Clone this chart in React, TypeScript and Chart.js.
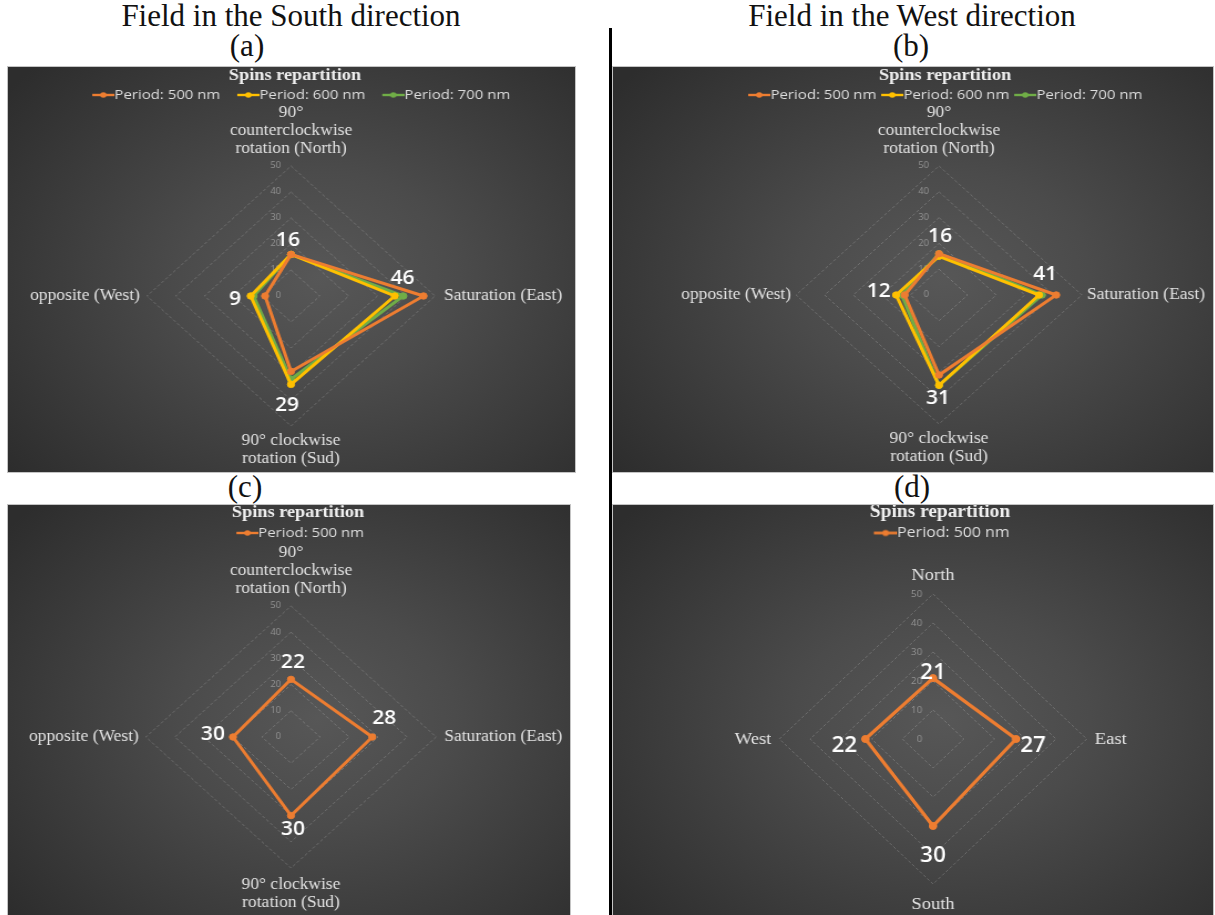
import React, { useEffect, useRef } from 'react';
import { Chart, registerables } from 'chart.js';

Chart.register(...registerables);

// ---------------- data ----------------
const rotationAxes: (string | string[])[] = [
  ['90°', 'counterclockwise', 'rotation (North)'],
  'Saturation (East)',
  ['90° clockwise', 'rotation (Sud)'],
  'opposite (West)',
];
const compassAxes = ['North', 'East', 'South', 'West'];
const periodNames = ['Period: 500 nm', 'Period: 600 nm', 'Period: 700 nm'];

// (a) field in the South direction
const southField500 = [16, 46, 29, 9];
const southField600 = [16, 36, 34, 14];
const southField700 = [16, 39, 32, 13];
// (b) field in the West direction
const westField500 = [16, 41, 31, 12];
const westField600 = [15, 35, 35, 15];
const westField700 = [16, 36, 35, 13];
// (c)
const panelC500 = [22, 28, 30, 20];
const panelCLabels = ['22', '28', '30', '30'];
// (d)
const panelD500 = [21, 27, 30, 22];

const rMin = 0;
const rMax = 50;
const rStep = 10;

const seriesColors = ['#ED7D31', '#FFC000', '#70AD47'];

// ---------------- layout / style ----------------
type Panel = {
  left: number; top: number; w: number; h: number; S: number; k: number;
  cx: number; cy: number; r: number;
  titleCx: number; titleCy: number; legendCy: number; legendGap: number;
  axes: (string | string[])[];
  series: number[][];
  valueLabels: string[];
  offsets: number[][];
  gaps: { n: number; e: number; s: number; w: number };
};

const panels: Panel[] = [
  {
    left: 8, top: 67, w: 567, h: 405, S: 1.108, k: 1,
    cx: 291, cy: 296, r: 130,
    titleCx: 295, titleCy: 9, legendCy: 28, legendGap: 17,
    axes: rotationAxes,
    series: [southField500, southField600, southField700],
    valueLabels: southField500.map(String),
    offsets: [[-3, -14], [-21, -17], [-4, 34], [-30, 4]],
    gaps: { n: 17, e: 9, s: 15, w: 7 },
  },
  {
    left: 613, top: 67, w: 600, h: 405, S: 1.108, k: 1,
    cx: 939, cy: 295, r: 129,
    titleCx: 945, titleCy: 9, legendCy: 28, legendGap: 5,
    axes: rotationAxes,
    series: [westField500, westField600, westField700],
    valueLabels: westField500.map(String),
    offsets: [[1, -17], [-11, -20], [-1, 24], [-26, -3]],
    gaps: { n: 17, e: 5, s: 15, w: 5 },
  },
  {
    left: 8, top: 505, w: 562, h: 410, S: 1.108, k: 1,
    cx: 291, cy: 737, r: 131,
    titleCx: 298, titleCy: 8, legendCy: 28, legendGap: 10,
    axes: rotationAxes,
    series: [panelC500],
    valueLabels: panelCLabels,
    offsets: [[2, -17], [12, -18], [2, 14], [-20, -2]],
    gaps: { n: 17, e: 8, s: 17, w: 7 },
  },
  {
    left: 613, top: 505, w: 600, h: 410, S: 1.06, k: 1.11,
    cx: 933, cy: 739, r: 145,
    titleCx: 940, titleCy: 7, legendCy: 28, legendGap: 10,
    axes: compassAxes,
    series: [panelD500],
    valueLabels: panelD500.map(String),
    offsets: [[0, -5], [17, 7], [0, 30], [-21, 7]],
    gaps: { n: 17, e: 8, s: 18, w: 8 },
  },
];

function makeMarker(color: string, W: number, L: number, lw: number, dotR: number) {
  const c = document.createElement('canvas');
  const H = Math.ceil(dotR * 2 + 2);
  c.width = Math.round(W);
  c.height = H;
  const g = c.getContext('2d')!;
  g.strokeStyle = color;
  g.lineWidth = lw;
  g.beginPath();
  g.moveTo(c.width - L, H / 2);
  g.lineTo(c.width, H / 2);
  g.stroke();
  g.fillStyle = color;
  g.beginPath();
  g.arc(c.width - L / 2, H / 2, dotR, 0, Math.PI * 2);
  g.fill();
  return c;
}

function RadarPanel({ p }: { p: Panel }) {
  const ref = useRef<HTMLCanvasElement | null>(null);
  const cw = Math.round(p.w / p.S);

  useEffect(() => {
    const k = p.k;
    const titleSize = 16.5 * k;
    const legendSize = 13.5 * k;
    const tickSize = 8.5 * k;
    const axisSize = 15.8 * k;
    const valueSize = 19 * k;
    const lineH = 18 * k;

    const titleLH = Math.min(1, (2 * p.titleCy) / titleSize);
    const titlePadTop = Math.max(0, p.titleCy - (titleSize * titleLH) / 2);
    const titleBoxH = titleSize * titleLH + titlePadTop;
    const hf = legendSize / 2;
    const legendPad = Math.max(0, p.legendCy - titleBoxH - hf);
    const L = 20 * k;
    const boxW = Math.max(4, p.legendGap / p.S - legendPad - hf + L);

    const titleCxC = (p.titleCx - p.left) / p.S;
    const diff = 2 * titleCxC - cw;
    const padL = diff > 0 ? diff : 0;
    const padR = diff < 0 ? -diff : 0;

    const cxC = (p.cx - p.left) / p.S;
    const cyC = p.cy - p.top;

    const decor = {
      id: 'decor',
      beforeDatasetsDraw(chart: any) {
        const s = chart.scales.r;
        const ctx = chart.ctx;
        ctx.save();
        // tick labels, left of the vertical axis
        ctx.font = `${tickSize}px "Open Sans"`;
        ctx.fillStyle = '#939393';
        ctx.textAlign = 'right';
        ctx.textBaseline = 'middle';
        s.ticks.forEach((t: any) => {
          const d = s.getDistanceFromCenterForValue(t.value);
          ctx.fillText(t.label, s.xCenter - 9 * k, s.yCenter - d);
        });
        // category (point) labels
        ctx.font = `${axisSize}px "Liberation Serif"`;
        ctx.fillStyle = '#e2e2e2';
        chart.data.labels.forEach((lab: any, i: number) => {
          const lines: string[] = Array.isArray(lab) ? lab : [lab];
          const pos = s.getPointPosition(i, s.drawingArea);
          if (i === 0) {
            ctx.textAlign = 'center';
            ctx.textBaseline = 'middle';
            lines.forEach((ln, j) => {
              ctx.fillText(ln, pos.x, pos.y - p.gaps.n * k - (lines.length - 1 - j) * lineH);
            });
          } else if (i === 2) {
            ctx.textAlign = 'center';
            ctx.textBaseline = 'middle';
            lines.forEach((ln, j) => {
              ctx.fillText(ln, pos.x, pos.y + p.gaps.s * k + j * lineH);
            });
          } else if (i === 1) {
            ctx.textAlign = 'left';
            ctx.textBaseline = 'middle';
            lines.forEach((ln, j) => ctx.fillText(ln, pos.x + p.gaps.e / p.S, pos.y + j * lineH));
          } else {
            ctx.textAlign = 'right';
            ctx.textBaseline = 'middle';
            lines.forEach((ln, j) => ctx.fillText(ln, pos.x - p.gaps.w / p.S, pos.y + j * lineH));
          }
        });
        ctx.restore();
      },
      afterDatasetsDraw(chart: any) {
        const ctx = chart.ctx;
        const meta = chart.getDatasetMeta(0);
        ctx.save();
        ctx.font = `600 ${valueSize}px "Open Sans"`;
        ctx.fillStyle = '#ffffff';
        ctx.textAlign = 'center';
        ctx.textBaseline = 'middle';
        meta.data.forEach((pt: any, i: number) => {
          const o = p.offsets[i];
          ctx.fillText(p.valueLabels[i], pt.x + o[0] / p.S, pt.y + o[1]);
        });
        ctx.restore();
      },
    };

    const chart = new Chart(ref.current!, {
      type: 'radar',
      data: {
        labels: p.axes as any,
        datasets: p.series.map((vals, i) => ({
          label: periodNames[i],
          data: vals,
          borderColor: seriesColors[i],
          backgroundColor: seriesColors[i],
          pointBackgroundColor: seriesColors[i],
          pointBorderColor: seriesColors[i],
          pointRadius: 3.2 * k,
          pointBorderWidth: 1,
          borderWidth: 3 * k,
          fill: false,
        })),
      },
      options: {
        animation: false,
        responsive: false,
        events: [],
        layout: { padding: { left: padL, right: padR, top: 0, bottom: 0 } },
        plugins: {
          title: {
            display: true,
            text: 'Spins repartition',
            color: '#f0f0f0',
            font: { family: 'Liberation Serif', size: titleSize, weight: 'bold', lineHeight: titleLH },
            padding: { top: titlePadTop, bottom: 0 },
          },
          legend: {
            display: true,
            labels: {
              usePointStyle: true,
              pointStyleWidth: boxW,
              padding: legendPad,
              color: '#dedede',
              font: { family: 'Open Sans', size: legendSize },
              generateLabels: (ch: any) =>
                ch.data.datasets.map((ds: any, i: number) => ({
                  text: ds.label,
                  fillStyle: ds.borderColor,
                  strokeStyle: ds.borderColor,
                  fontColor: '#dedede',
                  lineWidth: 0,
                  hidden: false,
                  datasetIndex: i,
                  pointStyle: makeMarker(ds.borderColor, boxW + 2 * hf, L, 2.4 * k, 2.8 * k),
                })),
            },
          },
          tooltip: { enabled: false },
        },
        scales: {
          r: {
            min: rMin,
            max: rMax,
            ticks: { stepSize: rStep, display: false },
            pointLabels: { display: false },
            angleLines: { display: false },
            grid: { color: 'rgba(255,255,255,0.2)', lineWidth: 1 },
            border: { dash: [3, 2] },
            afterFit: (s: any) => {
              s.xCenter = cxC;
              s.yCenter = cyC;
              s.drawingArea = p.r;
            },
          } as any,
        },
      } as any,
      plugins: [decor],
    });
    return () => chart.destroy();
  }, []);

  return (
    <div
      style={{
        position: 'absolute',
        left: p.left,
        top: p.top,
        width: p.w,
        height: p.h,
        overflow: 'hidden',
        background: 'radial-gradient(ellipse 70% 75% at 55% 52%, #575757 0%, #4b4b4b 35%, #2d2d2d 100%)',
        boxShadow: '0 0 0 1px #c4c4c4',
      }}
    >
      <div
        style={{
          position: 'absolute',
          left: 0,
          top: 0,
          width: cw,
          height: p.h,
          transform: `scaleX(${p.S})`,
          transformOrigin: '0 0',
        }}
      >
        <canvas ref={ref} width={cw} height={p.h} style={{ display: 'block', width: cw, height: p.h }} />
      </div>
    </div>
  );
}

const headerStyle = (cx: number, top: number, w: number): React.CSSProperties => ({
  position: 'absolute',
  left: cx - w / 2,
  top,
  width: w,
  textAlign: 'center',
  fontFamily: '"Liberation Serif", serif',
  fontSize: 31,
  lineHeight: '31px',
  color: '#111',
  whiteSpace: 'nowrap',
});

export default function App() {
  return (
    <div style={{ position: 'absolute', left: 0, top: 0, width: 1215, height: 915, background: '#fff', overflow: 'hidden' }}>
      <div style={headerStyle(291, 0, 500)}>Field in the South direction</div>
      <div style={headerStyle(247, 30, 80)}>(a)</div>
      <div style={headerStyle(912, 0, 500)}>Field in the West direction</div>
      <div style={headerStyle(911, 30, 80)}>(b)</div>
      <div style={headerStyle(245, 471, 80)}>(c)</div>
      <div style={headerStyle(912, 471, 80)}>(d)</div>
      <div style={{ position: 'absolute', left: 609, top: 28, width: 3, height: 887, background: '#000' }} />
      {panels.map((p, i) => (
        <RadarPanel key={i} p={p} />
      ))}
    </div>
  );
}
